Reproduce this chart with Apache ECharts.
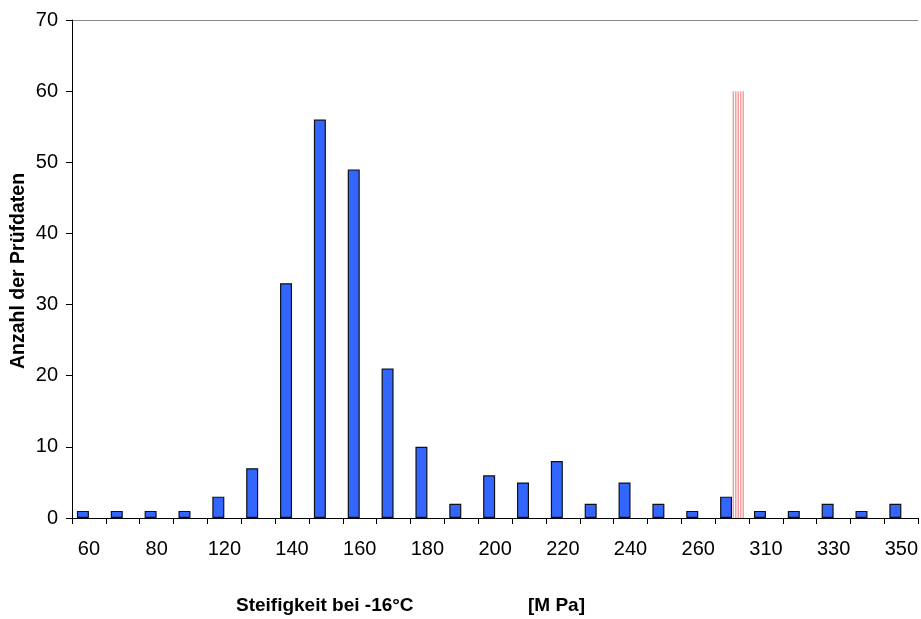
<!DOCTYPE html>
<html><head><meta charset="utf-8">
<script src="https://cdn.jsdelivr.net/npm/echarts@6/dist/echarts.min.js"></script>
<style>html,body{margin:0;padding:0;background:#fff}#c{width:921px;height:619px}</style>
</head><body><div id="c"></div>
<script>
const categories = ['60','70','80','100','120','130','140','150','160','170','180','190','200','210','220','230','240','250','260','270','310','320','330','340','350'];
const counts = [1,1,1,1,3,7,33,56,49,21,10,2,6,5,8,2,5,2,1,3,1,1,2,1,2];
const marker = [null,null,null,null,null,null,null,null,null,null,null,null,null,null,null,null,null,null,null,60,null,null,null,null,null];
const yTicks = {min:0, max:70, interval:10};
const yTitle = 'Anzahl der Prüfdaten';
const xTitle = 'Steifigkeit bei -16°C';
const xUnit = '[M Pa]';

const cv = document.createElement('canvas');
cv.width = 5; cv.height = 10;
const cx = cv.getContext('2d');
cx.fillStyle = '#fff'; cx.fillRect(0,0,5,10);
cx.fillStyle = '#f4a0a0';
cx.fillRect(0,0,1.5,10); cx.fillRect(2.5,0,1.5,10);

const chart = echarts.init(document.getElementById('c'));
chart.setOption({
  animation:false,
  grid:{left:72, right:1, top:20, bottom:101},
  xAxis:{type:'category', data:categories,
    axisLine:{lineStyle:{color:'#000', width:1}},
    axisTick:{show:true, alignWithLabel:false, length:6, interval:0, lineStyle:{color:'#000'}},
    axisLabel:{interval:1, color:'#000', fontFamily:'Liberation Sans, Arial', fontSize:20, margin:21}
  },
  yAxis:{type:'value', min:yTicks.min, max:yTicks.max, interval:yTicks.interval,
    axisLine:{show:true, lineStyle:{color:'#000'}},
    axisTick:{show:true, length:6, lineStyle:{color:'#000'}},
    axisLabel:{color:'#000', fontFamily:'Liberation Sans, Arial', fontSize:20, margin:14},
    splitLine:{show:true, lineStyle:{color:['transparent','transparent','transparent','transparent','transparent','transparent','transparent','#888']}}
  },
  graphic:[
    {type:'text', x:19, y:271, rotation:Math.PI/2, style:{text:yTitle, font:'bold 19.5px Liberation Sans, Arial', fill:'#000', align:'center', verticalAlign:'middle'}},
    {type:'text', x:236, y:606, style:{text:xTitle, font:'bold 19px Liberation Sans, Arial', fill:'#000', align:'left', verticalAlign:'middle'}},
    {type:'text', x:528, y:606, style:{text:xUnit, font:'bold 19px Liberation Sans, Arial', fill:'#000', align:'left', verticalAlign:'middle'}}
  ],
  series:[
    {type:'bar', data:counts, barWidth:12, barGap:'0%',
     itemStyle:{color:'#3366ff', borderColor:'#111', borderWidth:1.2}},
    {type:'bar', data:marker, barWidth:12, barGap:'0%',
     itemStyle:{color:{image:cv, repeat:'repeat'}}}
  ]
});
</script></body></html>
